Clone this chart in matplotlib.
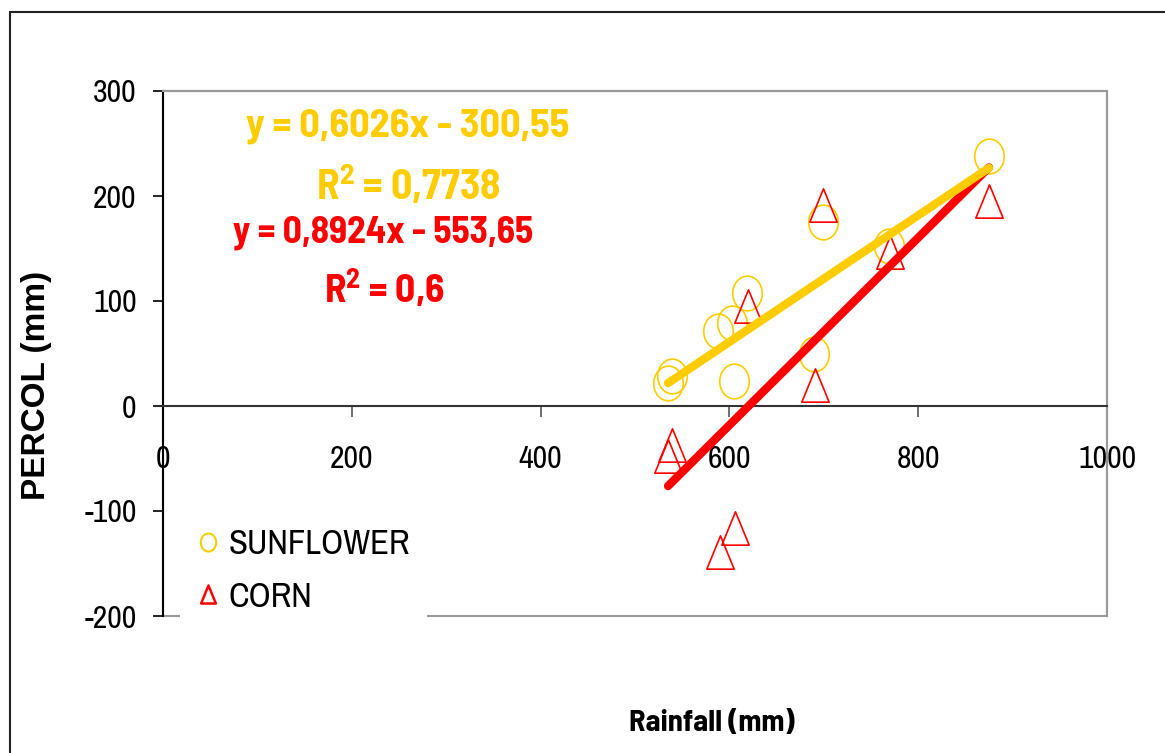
import numpy as np
import matplotlib
matplotlib.use('Agg')
import matplotlib.pyplot as plt
from matplotlib.path import Path
from matplotlib.patches import Rectangle
from matplotlib.lines import Line2D
import matplotlib.transforms as mtransforms

# Werte
sun_x = [535, 539, 588, 603, 605, 619, 690, 699, 769, 875]
sun_y = [22, 29, 71, 79, 24, 108, 50, 175, 152, 238]
corn_x = [535, 539, 590, 606, 620, 691, 699, 770, 875]
corn_y = [-48, -37, -139, -116, 95, 20, 191, 147, 195]

# Regressionsgeraden (wie im Bild angegeben)
sun_fit = (0.6026, -300.55)
corn_fit = (0.8924, -553.65)
sun_label = 'y = 0,6026x - 300,55'
sun_r2 = r'R$^{\mathbf{2}}$ = 0,7738'
corn_label = 'y = 0,8924x - 553,65'
corn_r2 = r'R$^{\mathbf{2}}$ = 0,6'

xticks = [0, 200, 400, 600, 800, 1000]
yticks = [-200, -100, 0, 100, 200, 300]

yellow = '#FFCC00'
red = '#FF0000'
narrow = ['Archivo Narrow', 'DejaVu Sans']
narrow_bold = ['Barlow Semi Condensed', 'DejaVu Sans']

plt.rcParams['mathtext.fontset'] = 'custom'
plt.rcParams['mathtext.rm'] = 'Barlow Semi Condensed:bold'
plt.rcParams['mathtext.bf'] = 'Barlow Semi Condensed:bold'
plt.rcParams['mathtext.default'] = 'bf'

# Marker: Ellipse und Dreieck (Bild ist leicht gestreckt)
ellipse = Path.unit_circle().transformed(mtransforms.Affine2D().scale(0.85, 1.0))
triangle = Path([(0, 0.5), (-0.41, -0.5), (0.41, -0.5), (0, 0.5)],
                [Path.MOVETO, Path.LINETO, Path.LINETO, Path.CLOSEPOLY])

W, H = 1165, 753
fig = plt.figure(figsize=(W / 100, H / 100), dpi=100)
ax = fig.add_axes([163 / W, 1 - 616 / H, (1107 - 163) / W, (616 - 91) / H])

# Rahmen der Grafik
fig.patches.append(Rectangle((10 / W, -0.02), 1.05, 1 - 12 / H + 0.02, transform=fig.transFigure,
                             fill=False, edgecolor='#222222', linewidth=1.5, zorder=0))

ax.plot(sun_x, sun_y, linestyle='none', marker=ellipse, markersize=25, markerfacecolor='none',
        markeredgecolor=yellow, markeredgewidth=1.2, zorder=3, clip_on=False)
ax.plot(corn_x, corn_y, linestyle='none', marker=triangle, markersize=24, markerfacecolor='none',
        markeredgecolor=red, markeredgewidth=1.2, zorder=3, clip_on=False)

xs = np.array([min(corn_x), max(corn_x)])
ax.plot(xs, corn_fit[0] * xs + corn_fit[1], color=red, linewidth=6, solid_capstyle='round', zorder=4)
xs = np.array([min(sun_x), max(sun_x)])
ax.plot(xs, sun_fit[0] * xs + sun_fit[1], color=yellow, linewidth=6, solid_capstyle='round', zorder=5)

ax.spines['bottom'].set_position(('data', 0))
ax.spines['bottom'].set_color('#333333')
ax.spines['left'].set_color('black')
ax.spines['top'].set_color('#999999')
ax.spines['right'].set_color('#999999')
for s in ax.spines.values():
    s.set_linewidth(1.5)

ax.set_xlim(0, 1000)
ax.set_ylim(-200, 300)
ax.set_xticks(xticks)
ax.set_yticks(yticks)
ax.set_xticklabels([str(v) for v in xticks], family=narrow, fontsize=23)
ax.set_yticklabels([str(v) for v in yticks], family=narrow, fontsize=23)

ax.add_patch(Rectangle((0, 0), 1, 1, transform=ax.transAxes, fill=False,
                       edgecolor='#999999', linewidth=1.5, zorder=0, clip_on=False))
ax.tick_params(axis='x', direction='out', length=8, width=1.2, color='#555555', pad=20)
ax.tick_params(axis='y', direction='out', length=7, width=1.2, color='black', pad=12)

fig.text(37 / W, 1 - 385 / H, 'PERCOL (mm)', rotation=90, ha='center', va='center',
         fontsize=24, fontweight='bold', family=['Liberation Sans', 'DejaVu Sans'])
fig.text(712 / W, 1 - 724 / H, 'Rainfall (mm)', ha='center', va='center',
         fontsize=22, fontweight='bold', family=narrow_bold)

fig.text(408 / W, 1 - 126 / H, sun_label, ha='center', va='center', color=yellow,
         fontsize=29, fontweight='bold', family=narrow_bold)
fig.text(408 / W, 1 - 186 / H, sun_r2, ha='center', va='center', color=yellow,
         fontsize=30, fontweight='bold', family=narrow_bold)
fig.text(383 / W, 1 - 233 / H, corn_label, ha='center', va='center', color=red,
         fontsize=27, fontweight='bold', family=narrow_bold)
fig.text(384 / W, 1 - 289 / H, corn_r2, ha='center', va='center', color=red,
         fontsize=28.5, fontweight='bold', family=narrow_bold)

handles = [
    Line2D([], [], linestyle='none', marker=ellipse, markersize=13, markerfacecolor='none',
           markeredgecolor=yellow, markeredgewidth=1.5),
    Line2D([], [], linestyle='none', marker=triangle, markersize=13, markerfacecolor='none',
           markeredgecolor=red, markeredgewidth=1.8),
]
leg = ax.legend(handles, ['SUNFLOWER', 'CORN'], loc='lower left',
                bbox_to_anchor=(180 / W, 1 - 630 / H), bbox_transform=fig.transFigure,
                prop={'family': narrow, 'size': 25}, frameon=True, fancybox=False,
                facecolor='white', edgecolor='white', framealpha=1, handlelength=0.6,
                handletextpad=0.3, labelspacing=0.6, borderpad=0.5, borderaxespad=0)
leg.get_frame().set_linewidth(0)
leg.set_zorder(6)

fig.savefig('out.png', dpi=100)
